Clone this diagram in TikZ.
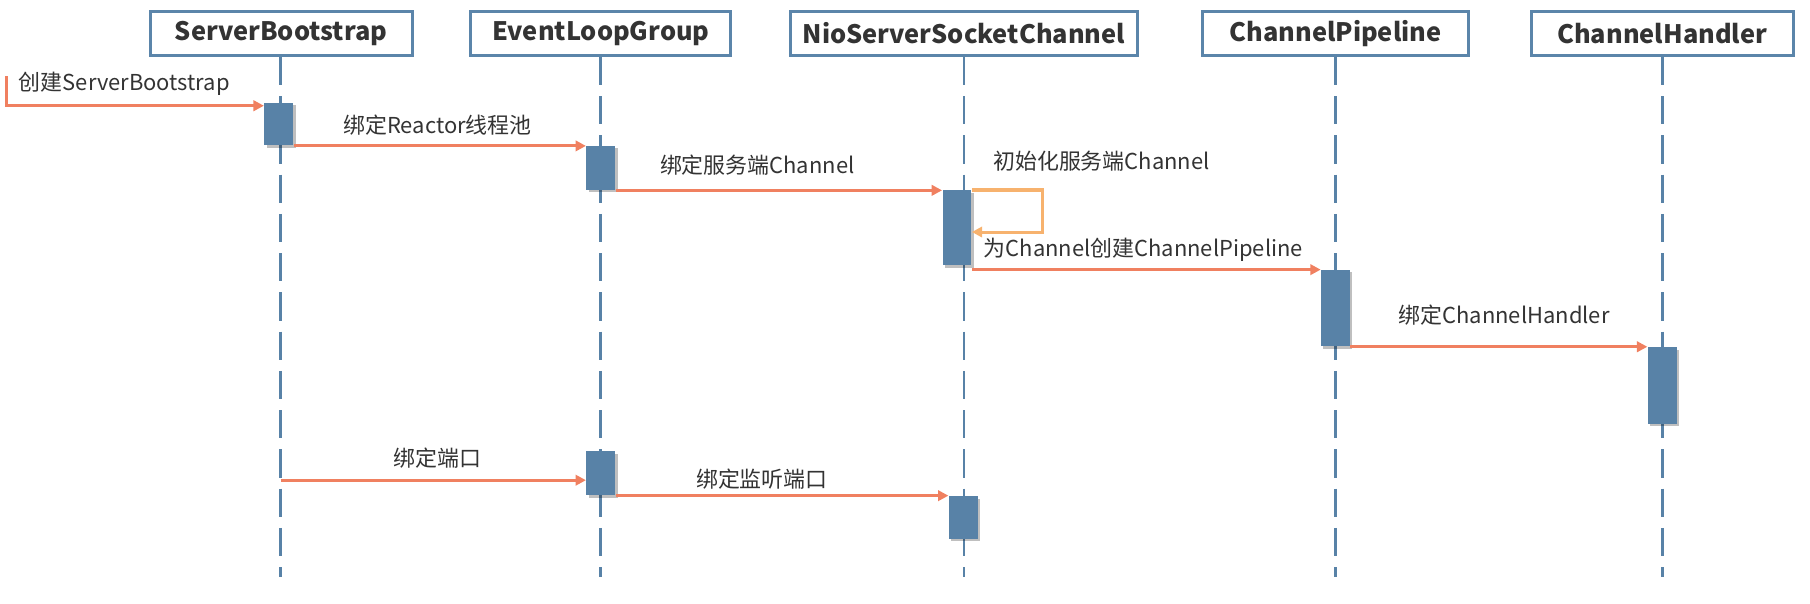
\documentclass[tikz,border=0pt]{standalone}
\usepackage{fontspec}
\setmainfont{Noto Sans CJK SC}
\usetikzlibrary{arrows.meta,shadows,calc}
\definecolor{lblue}{RGB}{88,130,167}
\definecolor{hblue}{RGB}{91,133,170}
\definecolor{msgc}{RGB}{240,128,96}
\definecolor{selfc}{RGB}{247,178,110}
\definecolor{txt}{RGB}{51,51,51}
\begin{document}
\begin{tikzpicture}[x=0.5pt,y=-0.5pt,
  head/.style={draw=hblue,line width=1.3pt,fill=white,minimum height=19pt,inner sep=0pt,
    text=txt,font=\bfseries\fontsize{11}{13}\selectfont},
  life/.style={draw=lblue,line width=1.1pt,dash pattern=on 12.2pt off 4.8pt},
  actbar/.style={fill=lblue,draw=none,minimum width=12.5pt,inner sep=0pt,
    drop shadow={opacity=0.25,shadow xshift=1pt,shadow yshift=-1pt,fill=black}},
  msg/.style={draw=msgc,line width=1.3pt,-{Triangle[length=4.5pt,width=4.5pt]}},
  selfmsg/.style={draw=selfc,line width=1.3pt,-{Triangle[length=4.5pt,width=4.5pt]}},
  lbl/.style={inner sep=0pt,text=txt,font=\fontsize{9.5}{11}\selectfont}]
\useasboundingbox (0,0) rectangle (1568,523);
% headers
\node[head,minimum width=113.5pt] (sb)   at (243.5,29) {ServerBootstrap};
\node[head,minimum width=112.5pt] (elg)  at (520.5,29) {EventLoopGroup};
\node[head,minimum width=150pt]   (nio)  at (835,29)   {NioServerSocketChannel};
\node[head,minimum width=115pt]   (pipe) at (1157,29)  {ChannelPipeline};
\node[head,minimum width=113.5pt] (hand) at (1440,29)  {ChannelHandler};
% lifelines
\coordinate (sbend)   at (243,500);
\coordinate (elgend)  at (520,500);
\coordinate (nioend)  at (835,500);
\coordinate (pipeend) at (1157,500);
\coordinate (handend) at (1440,500);
\draw[life] (sb.south -| sbend) -- (sbend);
\draw[life] (elg.south -| elgend) -- (elgend);
\draw[life] (nio.south -| nioend) -- (nioend);
\draw[life] (pipe.south -| pipeend) -- (pipeend);
\draw[life] (hand.south -| handend) -- (handend);
% activation bars
\node[actbar,minimum height=18.5pt] (sbbar)  at (241.5,107.5) {};
\node[actbar,minimum height=19pt]   (elgb1)  at (520.5,145.5) {};
\node[actbar,minimum height=32.5pt] (niob1)  at (829,197.5)   {};
\node[actbar,minimum height=33pt]   (pipeb)  at (1157,267)    {};
\node[actbar,minimum height=33pt]   (handb)  at (1440,334)    {};
\node[actbar,minimum height=19pt]   (elgb2)  at (520.5,410)   {};
\node[actbar,minimum height=18.5pt] (niob2)  at (834.5,448.5) {};
% messages
\coordinate (start) at (6,66);
\draw[msg] (start) |- ($(sbbar.north west)+(0,3)$);
\draw[msg] (sbbar.south east) -- (sbbar.south east -| elgb1.west);
\draw[msg] (elgb1.south east) -- (elgb1.south east -| niob1.west);
\coordinate (loopr) at (903,201);
\draw[selfmsg] (niob1.north east) -| (loopr) -- (loopr -| niob1.east);
\draw[msg] (niob1.east |- pipeb.north) -- (pipeb.north west);
\draw[msg] (pipeb.south east) -- (pipeb.south east -| handb.west);
\coordinate (bindp) at (243,416);
\draw[msg] (bindp) -- (bindp -| elgb2.west);
\draw[msg] (elgb2.south east) -- (elgb2.south east -| niob2.west);
% labels
\node[lbl,anchor=west] (t1) at (16,73)  {创建ServerBootstrap};
\node[lbl] (t2) at (379,108)  {绑定Reactor线程池};
\node[lbl] (t3) at (656,143)  {绑定服务端Channel};
\node[lbl,anchor=west] (t4) at (860,140) {初始化服务端Channel};
\node[lbl,anchor=west] (t5) at (852,216) {为Channel创建ChannelPipeline};
\node[lbl] (t6) at (1303,273) {绑定ChannelHandler};
\node[lbl] (t7) at (379,397)  {绑定端口};
\node[lbl] (t8) at (660,415)  {绑定监听端口};
\end{tikzpicture}
\end{document}
